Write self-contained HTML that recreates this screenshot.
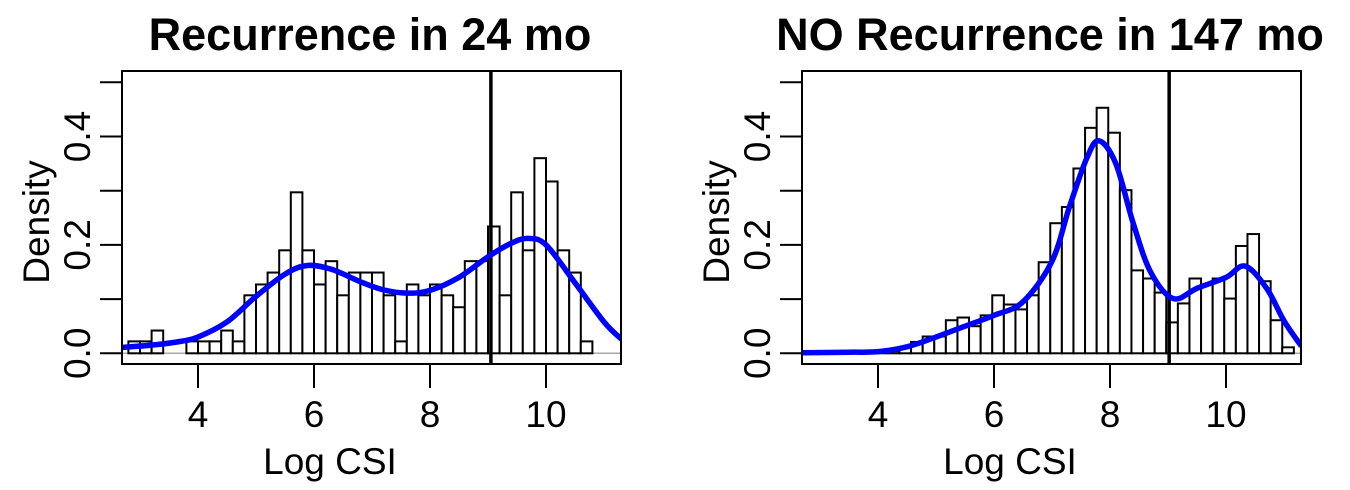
<!DOCTYPE html>
<html><head><meta charset="utf-8">
<style>
html,body{margin:0;padding:0;background:#fff;}
svg{display:block;font-family:"Liberation Sans",Arial,sans-serif;}
</style></head>
<body>
<svg id="chart" width="1350" height="490" viewBox="0 0 1350 490" xmlns="http://www.w3.org/2000/svg"></svg>
<script>
// ---- data ----
const xTicks = [4, 6, 8, 10];
const yTicks = [0, 0.1, 0.2, 0.3, 0.4, 0.5];
const yTickLabels = ["0.0", "0.2", "0.4"];
const yTickLabelValues = [0, 0.2, 0.4];

const leftTitle = "Recurrence in 24 mo";
const leftBinStart = 2.8;
const leftBinWidth = 0.2;
const leftHeights = [0.022,0.022,0.042,0,0,0.022,0.022,0.022,0.042,0.022,
  0.107,0.127,0.149,0.19,0.297,0.19,0.127,0.17,0.107,0.149,0.149,
  0.149,0.107,0.022,0.127,0.107,0.127,0.107,0.085,0.17,0.17,
  0.234,0.107,0.297,0.19,0.36,0.317,0.19,0.149,0.022];
const leftDensX = [2.7,3.2,3.7,4.0,4.5,5.0,5.5,5.88,6.3,6.8,7.2,7.62,8.0,8.5,9.0,9.4,9.69,10.0,10.5,11.0,11.3];
const leftDensY = [0.011,0.015,0.022,0.03,0.058,0.105,0.146,0.162,0.155,0.132,0.117,0.111,0.116,0.14,0.178,0.203,0.212,0.2,0.13,0.058,0.026];
const leftVLine = 9.05;

const rightTitle = "NO Recurrence in 147 mo";
const rightBinStart = 3.57;
const rightBinWidth = 0.2;
const rightHeights = [0.002,0.002,0.003,0.004,0.011,0.021,0.031,0.031,0.061,0.066,0.050,0.070,0.107,0.090,0.081,0.107,0.168,0.240,
  0.270,0.341,0.416,0.453,0.407,0.301,0.153,0.138,0.112,0.057,0.092,0.138,0.127,0.138,0.101,0.198,0.220,0.133,0.061,0.011];
const rightDensX = [2.7,3.5,4.0,4.5,5.0,5.5,6.0,6.5,7.0,7.3,7.6,7.81,8.1,8.4,8.7,9.09,9.5,10.0,10.33,10.7,11.0,11.3];
const rightDensY = [0.001,0.002,0.003,0.012,0.03,0.05,0.07,0.095,0.17,0.27,0.36,0.392,0.35,0.24,0.15,0.101,0.12,0.14,0.161,0.12,0.06,0.013];
const rightVLine = 9.02;

const NS = "http://www.w3.org/2000/svg";
const svg = document.getElementById('chart');
function mk(tag, attrs, parent, text){
  const e = document.createElementNS(NS, tag);
  for (const k in attrs) e.setAttribute(k, attrs[k]);
  if (text !== undefined) e.textContent = text;
  (parent||svg).appendChild(e);
  return e;
}

function panel(off, title, binStart, binW, heights, dX, dY, vline, key, xlabCenter){
  const g = mk('g', {});
  
  
  const L = 122 + off, R = 621 + off, T = 71, B = 364;
  const xs = v => 198 + off + (v - 4) * 58;
  const ys = d => 353.3 - d * 542;

  const t = mk('text', {x: 370 + off, y: 50, 'text-anchor': 'middle', 'font-size': 45, 'font-weight': 'bold'}, g, title);
  
  

  const clip = mk('clipPath', {id: 'clip-' + key}, g);
  mk('rect', {x: L, y: T, width: R - L, height: B - T}, clip);
  const plot = mk('g', {'clip-path': 'url(#clip-' + key + ')'}, g);

  const bl = mk('line', {x1: L, x2: R, y1: ys(0), y2: ys(0), stroke: '#aaa', 'stroke-width': 1.5}, plot);
  
  

  heights.forEach((h, i) => {
    const x0 = xs(binStart + i * binW), x1 = xs(binStart + (i + 1) * binW);
    const r = mk('rect', {x: x0, y: ys(h), width: x1 - x0, height: ys(0) - ys(h), fill: '#fff', stroke: '#000', 'stroke-width': 2}, plot);
    
    
  });

  const vl = mk('line', {x1: xs(vline), x2: xs(vline), y1: T, y2: B, stroke: '#000', 'stroke-width': 3.5}, plot);
  
  

  const P = dX.map((v, i) => [xs(v), ys(dY[i])]);
  let d = 'M' + P[0][0] + ',' + P[0][1];
  for (let i = 0; i < P.length - 1; i++) {
    const p0 = P[Math.max(0, i - 1)], p1 = P[i], p2 = P[i + 1], p3 = P[Math.min(P.length - 1, i + 2)];
    const c1 = [p1[0] + (p2[0] - p0[0]) / 6, p1[1] + (p2[1] - p0[1]) / 6];
    const c2 = [p2[0] - (p3[0] - p1[0]) / 6, p2[1] - (p3[1] - p1[1]) / 6];
    d += ' C' + c1[0] + ',' + c1[1] + ' ' + c2[0] + ',' + c2[1] + ' ' + p2[0] + ',' + p2[1];
  }
  const cv = mk('path', {d: d, fill: 'none', stroke: '#0000ff', 'stroke-width': 5.5, 'stroke-linejoin': 'round'}, plot);
  
  

  const box = mk('rect', {x: L, y: T, width: R - L, height: B - T, fill: 'none', stroke: '#000', 'stroke-width': 2}, g);
  
  

  xTicks.forEach(v => {
    const tk = mk('line', {x1: xs(v), x2: xs(v), y1: B, y2: B + 24, stroke: '#000', 'stroke-width': 2}, g);
    
    
    const lb = mk('text', {x: xs(v), y: 427, 'text-anchor': 'middle', 'font-size': 37}, g, String(v));
    
    
  });
  yTicks.forEach(v => {
    const tk = mk('line', {x1: L - 22, x2: L, y1: ys(v), y2: ys(v), stroke: '#000', 'stroke-width': 2}, g);
    
    
  });
  yTickLabelValues.forEach((v, i) => {
    const lb = mk('text', {x: 0, y: 0, 'text-anchor': 'middle', 'font-size': 37,
      transform: 'translate(' + (90 + off) + ',' + ys(v) + ') rotate(-90)'}, g, yTickLabels[i]);
    
    
  });
  const yl = mk('text', {x: 0, y: 0, 'text-anchor': 'middle', 'font-size': 37,
    transform: 'translate(' + (49 + off) + ',' + 222 + ') rotate(-90)'}, g, 'Density');
  
  
  const xl = mk('text', {x: xlabCenter, y: 474, 'text-anchor': 'middle', 'font-size': 37}, g, 'Log CSI');
  
  
}

panel(0, leftTitle, leftBinStart, leftBinWidth, leftHeights, leftDensX, leftDensY, leftVLine, 'left', 330);
panel(680, rightTitle, rightBinStart, rightBinWidth, rightHeights, rightDensX, rightDensY, rightVLine, 'right', 1010);
</script>
</body></html>
